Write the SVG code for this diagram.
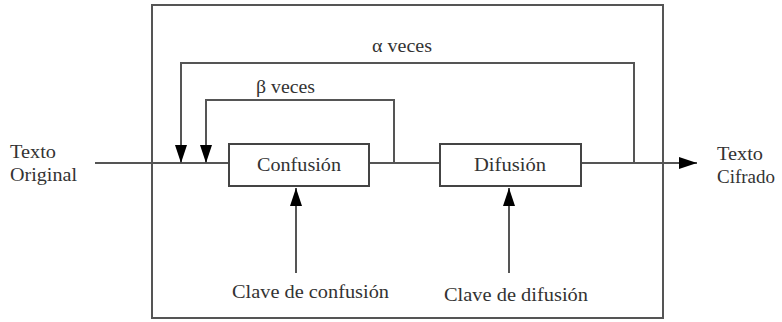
<svg xmlns="http://www.w3.org/2000/svg" width="782" height="322" viewBox="0 0 782 322">
<defs>
<style>
.ln{fill:none;stroke:#555;stroke-width:2}
.box{fill:#fff;stroke:#444;stroke-width:2}
text{font-family:"Liberation Serif",serif;font-size:19px;fill:#333}
</style>
<marker id="ahb" viewBox="0 0 18 12" refX="18" refY="6" markerWidth="18" markerHeight="12" markerUnits="userSpaceOnUse" orient="auto">
<path d="M0,0 L18,6 L0,12 Z" fill="#000"/>
</marker>
</defs>
<rect id="frame" x="152" y="5" width="511" height="313" fill="none" stroke="#555" stroke-width="2"/>
<g id="connectors">
<line class="ln" x1="95" y1="163" x2="229" y2="163"/>
<line class="ln" x1="369" y1="163" x2="440" y2="163"/>
<line class="ln" x1="581" y1="163" x2="697" y2="163" marker-end="url(#ahb)"/>
<polyline class="ln" points="634,163 634,63 181,63 181,163" marker-end="url(#ahb)"/>
<polyline class="ln" points="394,163 394,100 206,100 206,163" marker-end="url(#ahb)"/>
<line class="ln" x1="296" y1="273" x2="296" y2="188" marker-end="url(#ahb)"/>
<line class="ln" x1="509" y1="273" x2="509" y2="188" marker-end="url(#ahb)"/>
</g>
<g id="confusion" font-family="Liberation Serif, serif">
<rect class="box" x="229" y="144" width="140" height="42"/>
<text x="257" y="171" textLength="84" lengthAdjust="spacingAndGlyphs">Confusión</text>
</g>
<g id="difusion" font-family="Liberation Serif, serif">
<rect class="box" x="440" y="144" width="141" height="42"/>
<text x="474" y="171" textLength="72" lengthAdjust="spacingAndGlyphs">Difusión</text>
</g>
<g id="texto-original">
<text x="10" y="158" textLength="46" lengthAdjust="spacingAndGlyphs">Texto</text>
<text x="10" y="181" textLength="67" lengthAdjust="spacingAndGlyphs">Original</text>
</g>
<g id="texto-cifrado">
<text x="717" y="160" textLength="46" lengthAdjust="spacingAndGlyphs">Texto</text>
<text x="717" y="183" textLength="58" lengthAdjust="spacingAndGlyphs">Cifrado</text>
</g>
<g id="alpha-label"><text x="372" y="52" textLength="60" lengthAdjust="spacingAndGlyphs">α veces</text></g>
<g id="beta-label"><text x="256" y="93" textLength="59" lengthAdjust="spacingAndGlyphs">β veces</text></g>
<g id="clave-confusion"><text x="232" y="298" textLength="157" lengthAdjust="spacingAndGlyphs">Clave de confusión</text></g>
<g id="clave-difusion"><text x="444" y="301" textLength="144" lengthAdjust="spacingAndGlyphs">Clave de difusión</text></g>
</svg>
